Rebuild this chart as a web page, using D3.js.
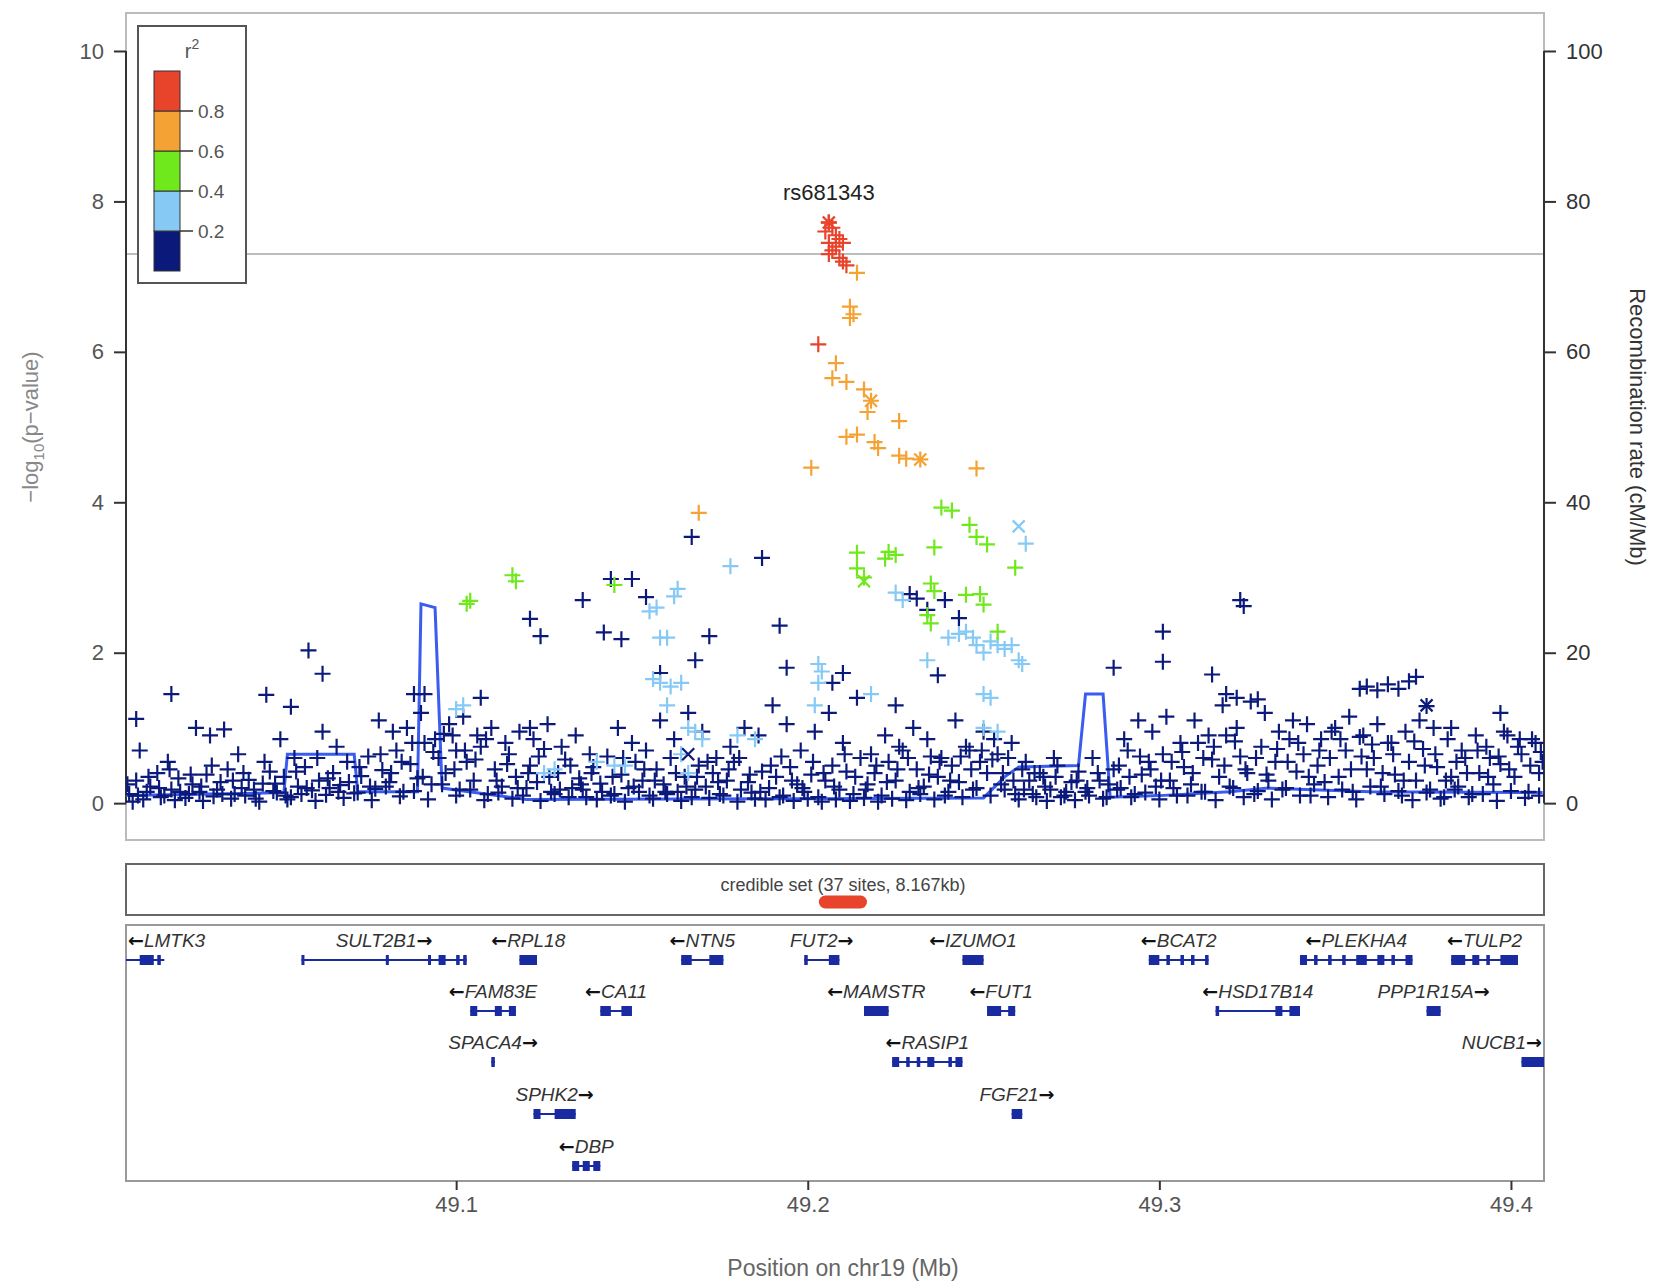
<!DOCTYPE html>
<html><head><meta charset="utf-8">
<script src="https://cdn.jsdelivr.net/npm/d3@7"></script>
<style>body{margin:0;background:#fff}text{font-family:"Liberation Sans",Arial,sans-serif}</style>
</head><body>
<svg id="chart" width="1657" height="1285"></svg>
<script>
// r2 classes: red >0.8, orange 0.6-0.8, green 0.4-0.6, light blue 0.2-0.4, navy <0.2
const redPts = [[49.206,7.72],[49.205,7.6],[49.207,7.65],[49.208,7.55],[49.206,7.45],[49.209,7.5],[49.207,7.35],[49.208,7.4],[49.210,7.45],[49.209,7.25],[49.210,7.2],[49.211,7.15],[49.206,7.3],[49.203,6.1]];
const orangePts = [[49.214,7.05],[49.212,6.6],[49.213,6.5],[49.212,6.45],[49.208,5.85],[49.207,5.65],[49.211,5.6],[49.216,5.5],[49.218,5.35],[49.217,5.2],[49.226,5.08],[49.211,4.87],[49.214,4.9],[49.219,4.8],[49.220,4.72],[49.226,4.62],[49.228,4.58],[49.232,4.57],[49.201,4.46],[49.248,4.45],[49.169,3.86]];
const greenPts = [[49.104,2.69],[49.103,2.65],[49.116,3.03],[49.117,2.95],[49.145,2.9],[49.214,3.33],[49.214,3.12],[49.216,3.0],[49.223,3.34],[49.225,3.3],[49.222,3.25],[49.236,3.4],[49.238,3.93],[49.241,3.89],[49.246,3.7],[49.248,3.54],[49.251,3.44],[49.259,3.13],[49.235,2.92],[49.236,2.82],[49.245,2.77],[49.249,2.78],[49.250,2.64],[49.234,2.5],[49.235,2.39],[49.254,2.28]];
const lightPts = [[49.155,2.55],[49.157,2.6],[49.160,2.2],[49.162,2.75],[49.163,2.85],[49.158,2.2],[49.156,1.65],[49.158,1.6],[49.161,1.55],[49.164,1.6],[49.160,1.3],[49.166,1.0],[49.168,0.95],[49.170,0.85],[49.164,0.65],[49.178,3.15],[49.180,0.9],[49.185,0.85],[49.203,1.85],[49.204,1.75],[49.203,1.6],[49.202,1.3],[49.218,1.45],[49.225,2.8],[49.227,2.7],[49.234,1.9],[49.240,2.2],[49.243,2.25],[49.245,2.28],[49.247,2.2],[49.248,2.1],[49.250,2.0],[49.252,2.15],[49.254,2.1],[49.256,2.05],[49.258,2.1],[49.260,1.9],[49.261,1.85],[49.262,3.45],[49.250,1.45],[49.252,1.4],[49.250,1.0],[49.254,0.95],[49.100,1.25],[49.102,1.3],[49.125,0.4],[49.128,0.45],[49.140,0.55],[49.145,0.5],[49.148,0.5],[49.166,0.4]];
const crossPts = [[49.260,3.68,'light'],[49.232,4.57,'orange'],[49.218,5.35,'orange'],[49.216,2.95,'green'],[49.166,0.65,'navy'],[49.376,1.3,'navy']];
const navyPts = [
[49.007,.12],[49.009,.30],[49.011,.05],[49.013,.22],[49.015,.40],[49.017,.10],[49.019,.18],[49.021,.33],[49.023,.07],[49.025,.25],[49.027,.15],[49.029,.38],[49.031,.09],[49.033,.28],[49.035,.45],[49.037,.12],[49.039,.20],[49.041,.31],[49.043,.06],[49.045,.26],[49.047,.42],[49.049,.14],[49.051,.35],[49.053,.08],[49.055,.22],[49.057,.48],[49.059,.17],[49.061,.30],[49.063,.11],[49.065,.40],[49.067,.24],[49.069,.55],[49.071,.13],[49.073,.36],[49.075,.62],[49.077,.19],[49.079,.44],[49.081,.28],[49.083,.70],[49.085,.15],[49.087,.52],[49.089,.33],[49.091,.80],[49.093,.25],[49.095,.60],[49.097,.40],[49.099,.90],[49.101,.18],[49.103,.55],[49.105,.30],[49.107,.75],[49.109,.12],[49.111,.45],[49.113,.22],[49.115,.65],[49.117,.35],[49.119,.10],[49.121,.50],[49.123,.28],[49.125,.72],[49.127,.15],[49.129,.40],[49.131,.58],[49.133,.20],[49.135,.33],[49.137,.08],[49.139,.48],[49.141,.26],[49.143,.62],[49.145,.12],[49.147,.38],[49.149,.20],[49.151,.55],[49.153,.30],[49.155,.10],[49.157,.45],[49.159,.25],[49.161,.60],[49.163,.15],[49.165,.35],[49.167,.08],[49.169,.50],[49.171,.22],[49.173,.40],[49.175,.12],[49.177,.30],[49.179,.55],[49.181,.18],[49.183,.28],[49.185,.06],[49.187,.42],[49.189,.20],[49.191,.35],[49.193,.10],[49.195,.48],[49.197,.25],[49.199,.15],[49.201,.38],[49.203,.08],[49.205,.30],[49.207,.50],[49.209,.18],[49.211,.42],[49.213,.12],[49.215,.60],[49.217,.25],[49.219,.40],[49.221,.10],[49.223,.55],[49.225,.30],[49.227,.70],[49.229,.15],[49.231,.45],[49.233,.22],[49.235,.62],[49.237,.35],[49.239,.10],[49.241,.50],[49.243,.28],[49.245,.75],[49.247,.18],[49.249,.55],[49.251,.40],[49.253,.85],[49.255,.25],[49.257,.60],[49.259,.12],[49.261,.45],[49.263,.30],[49.265,.08],[49.267,.35],[49.269,.18],[49.271,.50],[49.273,.10],[49.275,.28],[49.277,.42],[49.279,.15],[49.281,.60],[49.283,.30],[49.285,.08],[49.287,.45],[49.289,.20],[49.291,.70],[49.293,.12],[49.295,.38],[49.297,.55],[49.299,.22],[49.301,.65],[49.303,.30],[49.305,.10],[49.307,.48],[49.309,.25],[49.311,.80],[49.313,.15],[49.315,.58],[49.317,.35],[49.319,.90],[49.321,.20],[49.323,.62],[49.325,.40],[49.327,.12],[49.329,.75],[49.331,.30],[49.333,.55],[49.335,.18],[49.337,.85],[49.339,.42],[49.341,.65],[49.343,.10],[49.345,.50],[49.347,.28],[49.349,.95],[49.351,.35],[49.353,.70],[49.355,.15],[49.357,.88],[49.359,.45],[49.361,.60],[49.363,.22],[49.365,.80],[49.367,.38],[49.369,.10],[49.371,.55],[49.373,.30],[49.375,.72],[49.377,.18],[49.379,.48],[49.381,.08],[49.383,.35],[49.385,.22],[49.387,.60],[49.389,.12],[49.391,.40],[49.393,.75],[49.395,.25],[49.397,.52],[49.399,.90],[49.401,.35],[49.403,.65],[49.405,.15],[49.407,.80],[49.408,.40],
[49.008,.02],[49.012,.15],[49.016,.08],[49.020,.04],[49.024,.12],[49.028,.03],[49.032,.18],[49.036,.06],[49.040,.10],[49.044,.02],[49.048,.16],[49.052,.05],[49.056,.12],[49.060,.03],[49.064,.20],[49.068,.07],[49.072,.14],[49.076,.04],[49.080,.22],[49.084,.09],[49.088,.16],[49.092,.05],[49.096,.25],[49.100,.10],[49.104,.18],[49.108,.04],[49.112,.14],[49.116,.06],[49.120,.20],[49.124,.03],[49.128,.12],[49.132,.08],[49.136,.18],[49.140,.05],[49.144,.10],[49.148,.02],[49.152,.15],[49.156,.06],[49.160,.12],[49.164,.03],[49.168,.18],[49.172,.07],[49.176,.10],[49.180,.02],[49.184,.14],[49.188,.05],[49.192,.08],[49.196,.03],[49.200,.06],[49.204,.02],[49.208,.05],[49.212,.03],[49.216,.07],[49.220,.02],[49.224,.06],[49.228,.04],[49.232,.12],[49.236,.05],[49.240,.15],[49.244,.08],[49.248,.20],[49.252,.10],[49.256,.18],[49.260,.05],[49.264,.12],[49.268,.03],[49.272,.08],[49.276,.04],[49.280,.10],[49.284,.06],[49.288,.18],[49.292,.08],[49.296,.14],[49.300,.05],[49.304,.20],[49.308,.10],[49.312,.15],[49.316,.04],[49.320,.22],[49.324,.08],[49.328,.16],[49.332,.05],[49.336,.20],[49.340,.10],[49.344,.25],[49.348,.08],[49.352,.18],[49.356,.05],[49.360,.22],[49.364,.12],[49.368,.16],[49.372,.04],[49.376,.14],[49.380,.06],[49.384,.18],[49.388,.08],[49.392,.12],[49.396,.03],[49.400,.16],[49.404,.07],[49.408,.10],
[49.0065,.25],[49.0095,.10],[49.0125,.35],[49.0155,.20],[49.0185,.45],[49.0215,.15],[49.0245,.38],[49.0275,.22],[49.0305,.50],[49.0335,.12],[49.0365,.30],[49.0395,.40],[49.0425,.18],[49.0455,.55],[49.0485,.26],[49.0515,.10],[49.0545,.42],[49.0575,.20],[49.0605,.60],[49.0635,.33],[49.0665,.15],[49.0695,.28],[49.0725,.48],[49.0755,.22],[49.0785,.65],[49.0815,.40],[49.0845,.55],[49.0875,.80],[49.0905,.35],[49.0935,.68],[49.0965,.92],[49.0995,.45],[49.1025,.70],[49.1055,.58],[49.1085,.85],[49.1115,.30],[49.1145,.52],[49.1175,.20],[49.1205,.40],[49.1235,.62],[49.1265,.35],[49.1295,.18],[49.1325,.50],[49.1355,.25],[49.1385,.40],[49.1415,.15],[49.1445,.35],[49.1475,.60],[49.1505,.22],[49.1535,.45],[49.1565,.30],[49.1595,.15],[49.1625,.40],[49.1655,.22],[49.1685,.35],[49.1715,.55],[49.1745,.28],[49.1775,.45],[49.1805,.60],[49.1835,.38],[49.1865,.15],[49.1895,.50],[49.1925,.62],[49.1955,.30],[49.1985,.20],[49.2015,.55],[49.2045,.40],[49.2075,.22],[49.2105,.65],[49.2135,.35],[49.2165,.18],[49.2195,.50],[49.2225,.28],[49.2255,.45],[49.2285,.60],[49.2315,.20],[49.2345,.38],[49.2375,.55],[49.2405,.30],[49.2435,.62],[49.2465,.45],[49.2495,.70],[49.2525,.58],[49.2555,.40],[49.2585,.30],[49.2615,.18],[49.2645,.40],[49.2675,.22],[49.2705,.35],[49.2735,.15],[49.2765,.30],[49.2795,.20],[49.2825,.40],[49.2855,.25],[49.2885,.50],[49.2915,.35],[49.2945,.62],[49.2975,.45],[49.3005,.30],[49.3035,.55],[49.3065,.68],[49.3095,.40],[49.3125,.60],[49.3155,.75],[49.3185,.50],[49.3215,.82],[49.3245,.45],[49.3275,.60],[49.3305,.38],[49.3335,.72],[49.3365,.55],[49.3395,.80],[49.3425,.35],[49.3455,.70],[49.3485,.60],[49.3515,.85],[49.3545,.45],[49.3575,.62],[49.3605,.78],[49.3635,.40],[49.3665,.65],[49.3695,.30],[49.3725,.82],[49.3755,.50],[49.3785,.65],[49.3815,.30],[49.3845,.55],[49.3875,.40],[49.3905,.70],[49.3935,.35],[49.3965,.62],[49.3995,.45],[49.4025,.85],[49.4055,.50],[49.4085,.68],
[49.010,.70],[49.018,.55],[49.030,.90],[49.038,.65],[49.050,.85],[49.054,.60],[49.062,.95],[49.066,.75],[49.078,1.10],[49.082,.95],[49.086,1.00],[49.090,1.20],[49.094,.85],[49.098,1.05],[49.100,.70],[49.102,1.15],[49.106,.90],[49.110,1.00],[49.114,.80],[49.118,.95],[49.122,.85],[49.126,1.05],[49.130,.75],[49.134,.90],[49.138,.65],[49.146,1.00],[49.150,.80],[49.154,.70],[49.158,1.10],[49.162,.85],[49.166,1.20],[49.170,.95],[49.174,.60],[49.178,.75],[49.182,1.00],[49.186,.90],[49.190,1.30],[49.194,1.05],[49.198,.70],[49.202,.95],[49.206,1.20],[49.210,.80],[49.214,1.40],[49.218,.65],[49.222,.90],[49.226,.75],[49.230,1.00],[49.234,.85],[49.238,.60],[49.242,1.10],[49.246,.70],[49.250,.95],[49.254,.65],[49.258,.80],[49.262,.55],[49.266,.40],[49.270,.60],[49.290,.85],[49.294,1.10],[49.298,.95],[49.302,1.15],[49.306,.80],[49.310,1.10],[49.314,.90],[49.318,1.30],[49.322,1.00],[49.326,1.35],[49.330,1.20],[49.334,.95],[49.338,1.10],[49.342,1.05],[49.346,.85],[49.350,1.00],[49.354,1.15],[49.358,.90],[49.362,1.05],[49.366,.80],[49.370,.95],[49.374,1.10],[49.378,1.00],[49.382,.85],[49.386,.70],[49.390,.90],[49.394,.60],[49.398,.95],[49.402,.75],[49.406,.85],[49.409,.55],
[49.359,1.55],[49.362,1.50],[49.365,1.58],[49.368,1.52],[49.371,1.62],[49.373,1.68],
[49.019,1.45],[49.009,1.12],[49.026,1.0],[49.034,0.98],[49.058,2.03],[49.062,1.72],[49.046,1.44],[49.053,1.28],[49.091,1.45],[49.088,1.45],[49.107,1.40],[49.121,2.45],[49.124,2.22],[49.136,2.7],[49.142,2.27],[49.144,2.98],[49.150,2.98],[49.154,2.74],[49.147,2.18],[49.167,3.54],[49.187,3.26],[49.192,2.36],[49.172,2.22],[49.168,1.9],[49.158,1.73],[49.194,1.8],[49.210,1.73],[49.229,2.78],[49.231,2.72],[49.234,2.57],[49.239,2.7],[49.243,2.46],[49.237,1.7],[49.301,2.28],[49.301,1.88],[49.287,1.8],[49.323,2.7],[49.324,2.62],[49.315,1.71],[49.319,1.45],[49.322,1.40],[49.328,1.38],[49.357,1.52],[49.376,1.29],[49.397,1.2],[49.383,1.0],[49.121,1.00],[49.207,1.6],[49.225,1.3]
];

// recombination rate (cM/Mb)
const recombPos = [49.006,49.030,49.051,49.052,49.071,49.072,49.089,49.090,49.094,49.096,49.120,49.200,49.250,49.256,49.260,49.277,49.279,49.284,49.286,49.300,49.320,49.331,49.360,49.409];
const recombRate = [1.0,1.2,1.4,6.5,6.5,1.5,1.5,26.5,26,2.0,0.5,0.6,0.7,3.5,4.8,5.0,14.5,14.5,0.8,1.0,1.5,2.0,1.5,1.4];

const yTicks = [0,2,4,6,8,10];
const rTicks = [0,20,40,60,80,100];
const xTicks = [49.1,49.2,49.3,49.4];
const legendCuts = [0.2,0.4,0.6,0.8];
const legendColors = ['#0b1a7a','#86c9f5','#6fe81c','#f4a233','#e8432b'];

const genes = [
 {name:'LMTK3',s:49.0,e:49.017,dir:-1,row:0,ex:[[49.010,49.014],[49.015,49.016]]},
 {name:'SULT2B1',s:49.056,e:49.103,dir:1,row:0,ex:[[49.056,49.0565],[49.080,49.0805],[49.092,49.0925],[49.095,49.097],[49.100,49.101],[49.102,49.103]]},
 {name:'RPL18',s:49.118,e:49.123,dir:-1,row:0,ex:[[49.118,49.123]]},
 {name:'NTN5',s:49.164,e:49.176,dir:-1,row:0,ex:[[49.164,49.167],[49.172,49.176]]},
 {name:'FUT2',s:49.199,e:49.209,dir:1,row:0,ex:[[49.199,49.200],[49.206,49.209]]},
 {name:'IZUMO1',s:49.244,e:49.250,dir:-1,row:0,ex:[[49.244,49.250]]},
 {name:'BCAT2',s:49.297,e:49.314,dir:-1,row:0,ex:[[49.297,49.300],[49.302,49.303],[49.306,49.307],[49.309,49.310],[49.313,49.314]]},
 {name:'PLEKHA4',s:49.340,e:49.372,dir:-1,row:0,ex:[[49.340,49.342],[49.344,49.345],[49.348,49.349],[49.352,49.353],[49.356,49.359],[49.362,49.364],[49.366,49.367],[49.370,49.372]]},
 {name:'TULP2',s:49.383,e:49.402,dir:-1,row:0,ex:[[49.383,49.387],[49.389,49.391],[49.393,49.394],[49.397,49.402]]},
 {name:'FAM83E',s:49.104,e:49.117,dir:-1,row:1,ex:[[49.104,49.106],[49.111,49.113],[49.115,49.117]]},
 {name:'CA11',s:49.141,e:49.150,dir:-1,row:1,ex:[[49.141,49.144],[49.147,49.150]]},
 {name:'MAMSTR',s:49.216,e:49.223,dir:-1,row:1,ex:[[49.216,49.223]]},
 {name:'FUT1',s:49.251,e:49.259,dir:-1,row:1,ex:[[49.251,49.255],[49.257,49.259]]},
 {name:'HSD17B14',s:49.316,e:49.340,dir:-1,row:1,ex:[[49.316,49.317],[49.333,49.335],[49.337,49.340]]},
 {name:'PPP1R15A',s:49.376,e:49.380,dir:1,row:1,ex:[[49.376,49.380]]},
 {name:'SPACA4',s:49.110,e:49.111,dir:1,row:2,ex:[[49.110,49.111]]},
 {name:'RASIP1',s:49.224,e:49.244,dir:-1,row:2,ex:[[49.224,49.226],[49.228,49.229],[49.231,49.232],[49.234,49.236],[49.240,49.241],[49.242,49.244]]},
 {name:'NUCB1',s:49.403,e:49.415,dir:1,row:2,ex:[[49.403,49.415]]},
 {name:'SPHK2',s:49.122,e:49.134,dir:1,row:3,ex:[[49.122,49.124],[49.128,49.134]]},
 {name:'FGF21',s:49.258,e:49.261,dir:1,row:3,ex:[[49.258,49.261]]},
 {name:'DBP',s:49.133,e:49.141,dir:-1,row:4,ex:[[49.133,49.135],[49.136,49.138],[49.139,49.141]]}
];
const credibleSet = [49.205,49.215];

const svg = d3.select('#chart');
const L = 126, R = 1544;
const x = d3.scaleLinear().domain([49.0061, 49.4094]).range([L, R]);
const y = d3.scaleLinear().domain([-0.49, 10.505]).range([840, 13]);
const yr = d3.scaleLinear().domain([-4.9, 105.05]).range([840, 13]);

svg.append('clipPath').attr('id', 'pc').append('rect')
  .attr('x', L).attr('y', 13).attr('width', R - L).attr('height', 827);
svg.append('clipPath').attr('id', 'gc').append('rect')
  .attr('x', L).attr('y', 925).attr('width', R - L).attr('height', 256);

function frame(y0, y1, col) {
  svg.append('rect').attr('x', L).attr('y', y0).attr('width', R - L).attr('height', y1 - y0)
    .attr('fill', 'none').attr('stroke', col).attr('stroke-width', 2);
}
frame(13, 840, '#bbb');
frame(864, 915, '#666');
frame(925, 1181, '#999');

// genome-wide significance line
svg.append('line').attr('x1', L).attr('x2', R).attr('y1', y(7.3)).attr('y2', y(7.3))
  .attr('stroke', '#bdbdbd').attr('stroke-width', 2);

// axes
const yAx = svg.append('g').attr('transform', `translate(${L},0)`)
  .call(d3.axisLeft(y).tickValues(yTicks).tickSize(12).tickPadding(10));
const rAx = svg.append('g').attr('transform', `translate(${R},0)`)
  .call(d3.axisRight(yr).tickValues(rTicks).tickSize(12).tickPadding(10));
const xAx = svg.append('g').attr('transform', 'translate(0,1181)')
  .call(d3.axisBottom(x).tickValues(xTicks).tickFormat(d3.format('.1f')).tickSize(9).tickPadding(6));
[yAx, rAx, xAx].forEach(a => {
  a.select('.domain').remove();
  a.selectAll('line').attr('stroke', '#333').attr('stroke-width', 2);
  a.selectAll('text').style('font-size', '22px').attr('fill', '#555');
});
yAx.append('line').attr('x1', 0).attr('x2', 0).attr('y1', y(0)).attr('y2', y(10)).attr('stroke', '#333').attr('stroke-width', 2);
rAx.append('line').attr('x1', 0).attr('x2', 0).attr('y1', y(0)).attr('y2', y(10)).attr('stroke', '#333').attr('stroke-width', 2);
rAx.selectAll('text').attr('fill', '#333');

const yl = svg.append('text').attr('transform', 'translate(38,427) rotate(-90)')
  .attr('text-anchor', 'middle').style('font-size', '22px').attr('fill', '#888');
yl.append('tspan').text('\u2212log');
yl.append('tspan').text('10').style('font-size', '15px').attr('dy', 6);
yl.append('tspan').text('(p\u2212value)').attr('dy', -6);
svg.append('text').attr('transform', 'translate(1630,427) rotate(90)')
  .attr('text-anchor', 'middle').style('font-size', '22px').attr('fill', '#333')
  .text('Recombination rate (cM/Mb)');
svg.append('text').attr('x', 843).attr('y', 1276).attr('text-anchor', 'middle')
  .style('font-size', '23px').attr('fill', '#666').text('Position on chr19 (Mb)');

// recombination line
const plot = svg.append('g').attr('clip-path', 'url(#pc)');
plot.append('path').datum(recombPos.map((p, i) => [p, recombRate[i]]))
  .attr('d', d3.line().x(d => x(d[0])).y(d => yr(d[1])))
  .attr('fill', 'none').attr('stroke', '#3a5cf0').attr('stroke-width', 3);

// points
const plusPath = 'M-8,0H8M0,-8V8';
const xPath = 'M-6,-6L6,6M-6,6L6,-6';
function drawPts(data, col) {
  plot.append('g').selectAll('path').data(data).join('path')
    .attr('transform', d => `translate(${x(d[0])},${y(d[1])})`)
    .attr('d', plusPath).attr('stroke', col).attr('stroke-width', 2.2).attr('fill', 'none');
}
drawPts(navyPts, legendColors[0]);
drawPts(lightPts, legendColors[1]);
drawPts(greenPts, legendColors[2]);
drawPts(orangePts, legendColors[3]);
drawPts(redPts, legendColors[4]);
const crossCol = {navy: legendColors[0], light: legendColors[1], green: legendColors[2], orange: legendColors[3]};
plot.append('g').selectAll('path').data(crossPts).join('path')
  .attr('transform', d => `translate(${x(d[0])},${y(d[1])})`)
  .attr('d', xPath).attr('stroke', d => crossCol[d[2]]).attr('stroke-width', 2.2);
// lead SNP
const lead = redPts[0];
plot.append('path').attr('transform', `translate(${x(lead[0])},${y(lead[1])})`)
  .attr('d', 'M-8,0H8M0,-8V8M-6,-6L6,6M-6,6L6,-6').attr('stroke', legendColors[4]).attr('stroke-width', 2.4);
svg.append('text').attr('x', x(lead[0])).attr('y', y(lead[1]) - 22).attr('text-anchor', 'middle')
  .style('font-size', '22px').attr('fill', '#222').text('rs681343');

// legend
const lg = svg.append('g');
lg.append('rect').attr('x', 138).attr('y', 26).attr('width', 108).attr('height', 257)
  .attr('fill', '#fff').attr('stroke', '#555').attr('stroke-width', 2);
const ls = d3.scaleLinear().domain([0, 1]).range([271, 71]);
const lt = lg.append('text').attr('x', 192).attr('y', 58).attr('text-anchor', 'middle').style('font-size', '20px').attr('fill', '#555');
lt.append('tspan').text('r');
lt.append('tspan').text('2').style('font-size', '14px').attr('dy', -9);
legendColors.forEach((c, i) => {
  lg.append('rect').attr('x', 154).attr('y', ls((i + 1) / 5)).attr('width', 26)
    .attr('height', ls(i / 5) - ls((i + 1) / 5)).attr('fill', c).attr('stroke', '#333').attr('stroke-width', 1);
});
legendCuts.forEach(v => {
  lg.append('line').attr('x1', 180).attr('x2', 193).attr('y1', ls(v)).attr('y2', ls(v)).attr('stroke', '#333').attr('stroke-width', 1.5);
  lg.append('text').attr('x', 198).attr('y', ls(v) + 7).style('font-size', '19px').attr('fill', '#555').text(v.toFixed(1));
});

// credible set
svg.append('text').attr('x', 843).attr('y', 891).attr('text-anchor', 'middle')
  .style('font-size', '18px').attr('fill', '#444').text('credible set (37 sites, 8.167kb)');
svg.append('line').attr('x1', x(credibleSet[0])).attr('x2', x(credibleSet[1])).attr('y1', 902).attr('y2', 902)
  .attr('stroke', '#e8432b').attr('stroke-width', 13).attr('stroke-linecap', 'round');

// genes
const gg = svg.append('g').attr('clip-path', 'url(#gc)');
const rowY = [960, 1011, 1062, 1114, 1166];
genes.forEach(g => {
  const yy = rowY[g.row];
  gg.append('line').attr('x1', x(g.s)).attr('x2', x(g.e)).attr('y1', yy).attr('y2', yy)
    .attr('stroke', '#1a2aa0').attr('stroke-width', 2);
  g.ex.forEach(e => {
    gg.append('rect').attr('x', x(e[0])).attr('y', yy - 5).attr('width', Math.max(3, x(e[1]) - x(e[0])))
      .attr('height', 10).attr('fill', '#1a2aa0');
  });
  const t = svg.append('text').attr('y', yy - 13).style('font-size', '19px')
    .attr('fill', '#333').attr('text-anchor', 'middle');
  const arrow = a => t.append('tspan').text(a).style('font-family', '"DejaVu Sans"').style('font-weight', 'bold').attr('fill', '#111');
  if (g.dir < 0) arrow('\u2190');
  t.append('tspan').text(g.name).style('font-style', 'italic');
  if (g.dir > 0) arrow('\u2192');
  const w = t.node().getComputedTextLength();
  let cx = (x(g.s) + x(g.e)) / 2;
  cx = Math.max(L + 2 + w / 2, Math.min(R - 2 - w / 2, cx));
  t.attr('x', cx);
});
</script>
</body></html>
